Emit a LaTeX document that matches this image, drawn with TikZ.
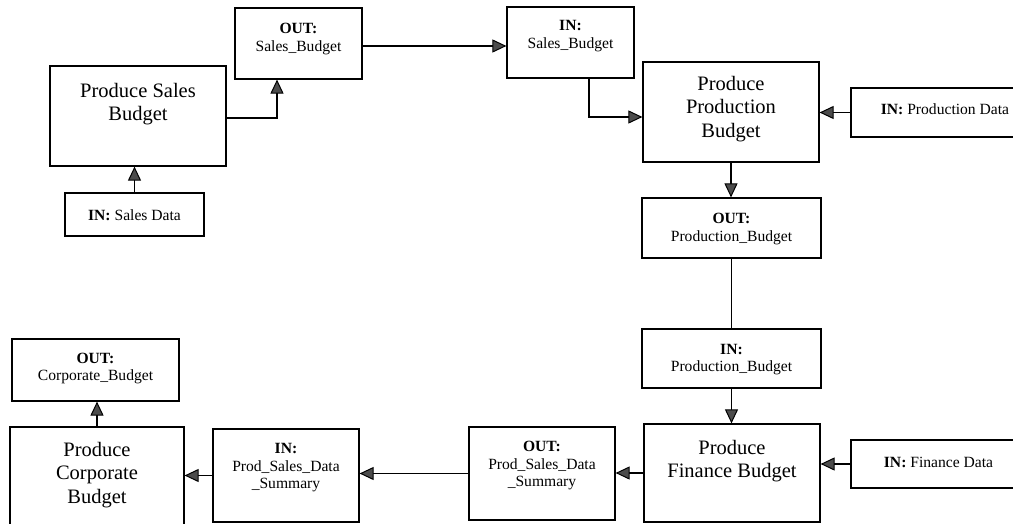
\documentclass[tikz,border=0pt]{standalone}
\usepackage{fontspec}
\setmainfont{Liberation Serif}
\usetikzlibrary{arrows.meta}
\begin{document}
\begin{tikzpicture}[x=1pt,y=-1pt,
  box/.style={draw, line width=1.2pt, inner sep=0pt, anchor=center},
  bigtxt/.style={align=center, font=\fontsize{20.5}{23.5}\selectfont, inner sep=0pt},
  smalltxt/.style={align=center, font=\fontsize{15.6}{17.5}\selectfont, inner sep=0pt},
  arr/.style={line width=1.5pt, -{Triangle[length=14pt,width=13pt,fill=black!70,line width=1pt]}},
  link/.style={line width=1.5pt}]
\useasboundingbox (0,0) rectangle (1013,524);
\clip (0,0) rectangle (1013,524);

% --- process boxes ---
\node[box, minimum width=176pt, minimum height=100pt] (salesBox) at (138,116) {};
\node[bigtxt] (salesTxt) at (138,104) {Produce Sales\\Budget};

\node[box, minimum width=176pt, minimum height=100pt] (prodBox) at (731,112) {};
\node[bigtxt] (prodTxt) at (731,109) {Produce\\Production\\Budget};

\node[box, minimum width=176pt, minimum height=98pt] (finBox) at (732,473) {};
\node[bigtxt] (finTxt) at (732,461) {Produce\\Finance Budget};

\node[box, minimum width=174pt, minimum height=103pt] (corpBox) at (97,478.5) {};
\node[bigtxt] (corpTxt) at (97,475) {Produce\\Corporate\\Budget};

% --- data boxes ---
\node[box, minimum width=127pt, minimum height=71pt] (outSales) at (298.5,43.5) {};
\node[smalltxt] (outSalesTxt) at (298.5,39) {\textbf{OUT:}\\Sales\_Budget};

\node[box, minimum width=139pt, minimum height=43pt] (inSalesData) at (134.5,214.5) {};
\node[smalltxt] (inSalesDataTxt) at (134.5,215) {\textbf{IN:} Sales Data};

\node[box, minimum width=127pt, minimum height=71pt] (inSales) at (570.5,42.5) {};
\node[smalltxt] (inSalesTxt) at (570.5,36) {\textbf{IN:}\\Sales\_Budget};

\node[box, minimum width=188pt, minimum height=49pt] (inProdData) at (945,112.5) {};
\node[smalltxt] (inProdDataTxt) at (945,109) {\textbf{IN:} Production Data};

\node[box, minimum width=179pt, minimum height=60pt] (outProd) at (731.5,228) {};
\node[smalltxt] (outProdTxt) at (731.5,229) {\textbf{OUT:}\\Production\_Budget};

\node[box, minimum width=179pt, minimum height=59pt] (inProd) at (731.5,358.5) {};
\node[smalltxt] (inProdTxt) at (731.5,359.5) {\textbf{IN:}\\Production\_Budget};

\node[box, minimum width=175pt, minimum height=48pt] (inFinData) at (938.5,464) {};
\node[smalltxt] (inFinDataTxt) at (938.5,462) {\textbf{IN:} Finance Data};

\node[box, minimum width=146pt, minimum height=93pt] (outPSD) at (542,473.5) {};
\node[smalltxt] (outPSDTxt) at (542,466) {\textbf{OUT:}\\Prod\_Sales\_Data\\\_Summary};

\node[box, minimum width=146pt, minimum height=93pt] (inPSD) at (286,475.5) {};
\node[smalltxt] (inPSDTxt) at (286,468) {\textbf{IN:}\\Prod\_Sales\_Data\\\_Summary};

\node[box, minimum width=167pt, minimum height=62pt] (outCorp) at (95.5,370) {};
\node[smalltxt] (outCorpTxt) at (95.5,368.5) {\textbf{OUT:}\\Corporate\_Budget};

% --- routing points ---
\coordinate (j1) at (277,118);
\coordinate (j2) at (430,46);
\coordinate (j3) at (589,117);

% --- connectors ---
\draw[arr] (inSalesData.north) -- (inSalesData.north |- salesBox.south);
\draw[arr] (salesBox.east |- j1) -| (j1 |- outSales.south);
\draw[arr] (outSales.east |- j2) -- (inSales.west |- j2);
\draw[arr] (inSales.south -| j3) |- (prodBox.west |- j3);
\draw[arr] (inProdData.west) -- (prodBox.east |- inProdData.west);
\draw[arr] (prodBox.south) -- (prodBox.south |- outProd.north);
\draw[link] (outProd.south) -- (outProd.south |- inProd.north);
\draw[arr] (inProd.south) -- (inProd.south |- finBox.north);
\draw[arr] (inFinData.west) -- (finBox.east |- inFinData.west);
\draw[arr] (finBox.west) -- (outPSD.east |- finBox.west);
\draw[arr] (outPSD.west) -- (inPSD.east |- outPSD.west);
\draw[arr] (inPSD.west) -- (corpBox.east |- inPSD.west);
\draw[arr] (corpBox.north) -- (corpBox.north |- outCorp.south);
\end{tikzpicture}
\end{document}
